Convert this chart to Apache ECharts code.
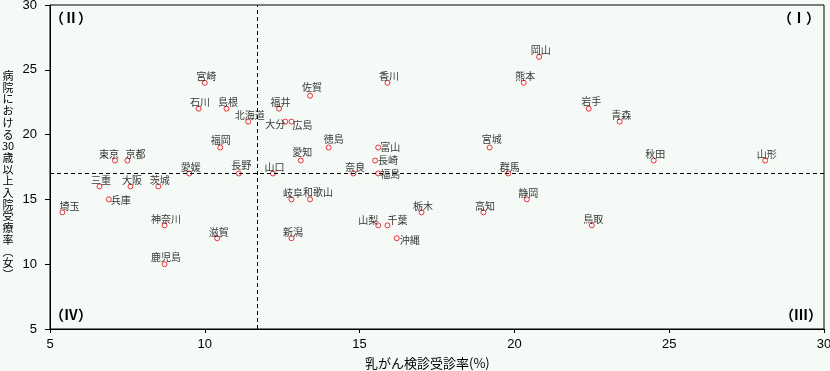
<!DOCTYPE html>
<html><head><meta charset="utf-8">
<script src="https://cdn.jsdelivr.net/npm/echarts@6/dist/echarts.min.js"></script>
<style>html,body{margin:0;padding:0;background:#f5faf6;}#c{width:830px;height:371px;}</style>
</head><body><div id="c"></div>
<script>
const prefNames = ['北海道','青森','岩手','宮城','秋田','山形','福島','茨城','栃木','群馬','埼玉','千葉','東京','神奈川','新潟','富山','石川','福井','山梨','長野','岐阜','静岡','愛知','三重','滋賀','京都','大阪','兵庫','奈良','和歌山','鳥取','島根','岡山','広島','山口','徳島','香川','愛媛','高知','福岡','佐賀','長崎','熊本','大分','宮崎','鹿児島','沖縄'];
const screeningRate = [11.4,23.4,22.4,19.2,24.5,28.1,15.6,8.5,17.0,19.8,5.4,15.9,7.1,8.7,12.8,15.6,9.8,12.4,15.6,11.1,12.8,20.4,13.1,6.6,10.4,7.5,7.6,6.9,14.8,13.4,22.5,10.7,20.8,12.8,12.2,14.0,15.9,9.5,19.0,10.5,13.4,15.5,20.3,12.6,10.0,8.7,16.2];
const inpatientRate = [21,21,22,19,18,18,17,16,14,17,14,13,18,13,12,19,22,22,13,17,15,15,18,16,12,18,16,15,17,15,13,22,26,21,17,19,24,17,14,19,23,18,24,21,24,10,12];
const xTicks = [5,10,15,20,25,30];
const yTicks = [5,10,15,20,25,30];
const avgX = 11.7;
const avgY = 17;
const quadrantLabels = ['（Ⅰ）','（Ⅱ）','（Ⅲ）','（Ⅳ）'];
const xTitle = '乳がん検診受診率(%)';
const yTitleChars = ['病','院','に','お','け','る','30','歳','以','上','入','院','受','療','率','︵','女','︶'];

// label placement (layout only)
const labelNudge = {
  '兵庫':[12,1],'大分':[-10,3],'広島':[11,4],'富山':[12,0],'長崎':[13,0],'福島':[12,1],'沖縄':[13,2],
  '東京':[-6,-6],'京都':[8,-6],'埼玉':[7,-6],'和歌山':[8,-7],'山梨':[-10,-5],'千葉':[10,-5],'徳島':[5,-8],
  '佐賀':[2,-8.5],'愛知':[1.5,-8.5],'宮城':[2,-8],'福岡':[0.5,-7.5],'長野':[2.5,-8],'岩手':[2.5,-7.5]
};
const defaultNudge = [1.5,-6.5];

const data = prefNames.map((n,i)=>({
  value:[screeningRate[i], inpatientRate[i], n],
  label:{offset: labelNudge[n] || defaultNudge}
}));

const chart = echarts.init(document.getElementById('c'), null, {renderer:'canvas'});
const tickFont = {color:'#000', fontSize:13, fontFamily:'Liberation Sans, Arial, sans-serif'};
const qStyle = {fontSize:14,fontWeight:'bold',fontFamily:'Noto Sans CJK JP',fill:'#000',align:'center',verticalAlign:'middle'};
chart.setOption({
  backgroundColor:'#f5faf6',
  animation:false,
  grid:{left:50,right:6,top:5,bottom:42,outerBoundsMode:'none',containLabel:false,show:true,borderColor:'#000',borderWidth:1,backgroundColor:'transparent'},
  xAxis:{type:'value',min:xTicks[0],max:xTicks[xTicks.length-1],interval:5,
    axisLine:{lineStyle:{color:'#000',width:1}},
    axisTick:{show:true,length:4,lineStyle:{color:'#000'}},
    axisLabel:Object.assign({margin:9},tickFont),
    splitLine:{show:false}},
  yAxis:{type:'value',min:yTicks[0],max:yTicks[yTicks.length-1],interval:5,
    axisLine:{show:true,lineStyle:{color:'#000',width:1}},
    axisTick:{show:true,length:5,lineStyle:{color:'#000'}},
    axisLabel:Object.assign({margin:13},tickFont),
    splitLine:{show:false}},
  series:[{
    type:'scatter',
    symbol:'circle',
    symbolSize:5,
    itemStyle:{color:'rgba(0,0,0,0)',borderColor:'#e8000b',borderWidth:1},
    data:data,
    label:{show:true,position:'inside',formatter:p=>p.value[2],color:'#000',
      fontSize:10,fontFamily:'Noto Sans CJK JP',align:'center',verticalAlign:'middle'},
    markLine:{silent:true,symbol:'none',animation:false,
      lineStyle:{color:'#000',type:[4,3],width:1},
      label:{show:false},
      data:[{xAxis:avgX},{yAxis:avgY}]}
  }],
  graphic:[
    {type:'text',left:428-63,top:357,style:{text:xTitle,fontSize:13,fontFamily:'Noto Sans CJK JP',fill:'#000'}},
    {type:'text',x:8,y:70,style:{text:yTitleChars.join('\n'),fontSize:11,lineHeight:11.7,fontFamily:'Noto Sans CJK JP',fill:'#000',align:'center',verticalAlign:'top'}},
    {type:'text',x:799,y:18,style:Object.assign({text:quadrantLabels[0]},qStyle)},
    {type:'text',x:71,y:18,style:Object.assign({text:quadrantLabels[1]},qStyle)},
    {type:'text',x:801,y:315,style:Object.assign({text:quadrantLabels[2]},qStyle)},
    {type:'text',x:71,y:315,style:Object.assign({text:quadrantLabels[3]},qStyle)}
  ]
});
</script></body></html>
